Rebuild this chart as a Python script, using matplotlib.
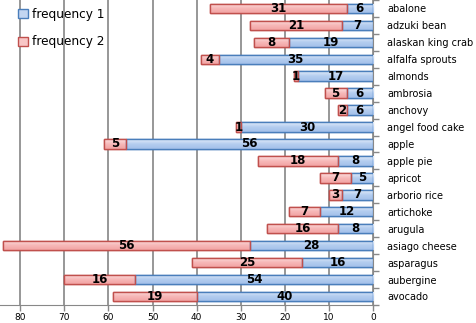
import numpy as np
import matplotlib
matplotlib.use("Agg")
import matplotlib.pyplot as plt
from matplotlib.colors import LinearSegmentedColormap

categories = ["abalone", "adzuki bean", "alaskan king crab", "alfalfa sprouts",
              "almonds", "ambrosia", "anchovy", "angel food cake", "apple",
              "apple pie", "apricot", "arborio rice", "artichoke", "arugula",
              "asiago cheese", "asparagus", "aubergine", "avocado"]
freq1 = [6, 7, 19, 35, 17, 6, 6, 30, 56, 8, 5, 7, 12, 8, 28, 16, 54, 40]
freq2 = [31, 21, 8, 4, 1, 5, 2, 1, 5, 18, 7, 3, 7, 16, 56, 25, 16, 19]
xticks = [0, 10, 20, 30, 40, 50, 60, 70, 80]

fig = plt.figure(figsize=(4.77, 3.23), dpi=100)
ax = fig.add_axes([0.0, 0.056, 0.782, 0.944])

y = np.arange(len(categories))
h = 0.56
blue_edge, red_edge = "#4a7ebb", "#c0504d"
blue_cmap = LinearSegmentedColormap.from_list("b", ["#e3ecf9", "#b4cdef", "#a3c0ea"])
red_cmap = LinearSegmentedColormap.from_list("r", ["#fde2e2", "#f7b9b9", "#f2a3a3"])

b1 = ax.barh(y, freq1, height=h, color="#c2d5f1", edgecolor=blue_edge, linewidth=1.0,
             label="frequency 1", zorder=3)
b2 = ax.barh(y, freq2, left=freq1, height=h, color="#f8c6c6", edgecolor=red_edge,
             linewidth=1.0, label="frequency 2", zorder=3)

grad = np.linspace(0, 1, 64).reshape(-1, 1)
for bars, cmap in ((b1, blue_cmap), (b2, red_cmap)):
    for p in bars.patches:
        x0, yb = p.get_x(), p.get_y()
        w, hh = p.get_width(), p.get_height()
        im = ax.imshow(grad, cmap=cmap, aspect="auto",
                       extent=(x0, x0 + w, yb + hh, yb), zorder=3.5,
                       interpolation="bilinear")
        im.set_clip_path(p)
        edge = plt.Rectangle((x0, yb), w, hh, fill=False,
                             edgecolor=p.get_edgecolor(), linewidth=1.0, zorder=4)
        ax.add_patch(edge)

for i in range(len(categories)):
    ax.text(freq1[i] / 2, y[i], str(freq1[i]), ha="center", va="center",
            fontsize=8.5, fontweight="bold", zorder=5)
    ax.text(freq1[i] + freq2[i] / 2, y[i], str(freq2[i]), ha="center", va="center",
            fontsize=8.5, fontweight="bold", zorder=5)

ax.set_xlim(84.6, 0)
ax.set_ylim(len(categories) - 0.5, -0.5)
ax.set_xticks(xticks)
ax.tick_params(axis="x", labelsize=6.5, length=4, pad=2, color="#888888", width=1)

ax.yaxis.tick_right()
ax.set_yticks(y)
ax.set_yticklabels(categories, fontsize=7)
ax.set_yticks(np.arange(-0.5, len(categories), 1), minor=True)
ax.tick_params(axis="y", which="major", length=0, pad=10)
ax.tick_params(axis="y", which="minor", length=4, color="#888888", width=1)

ax.grid(axis="x", color="#858585", linewidth=1.2, zorder=0)
ax.set_axisbelow(True)
for s in ("top", "left"):
    ax.spines[s].set_visible(False)
ax.spines["right"].set_color("#888888")
ax.spines["bottom"].set_color("#888888")

leg = ax.legend(loc="upper left", bbox_to_anchor=(0.035, 0.99), frameon=False,
                fontsize=8.7, handlelength=0.8, handleheight=0.8, handletextpad=0.4,
                labelspacing=1.2, borderaxespad=0)
leg.set_zorder(6)

fig.savefig("out.png", dpi=100)
